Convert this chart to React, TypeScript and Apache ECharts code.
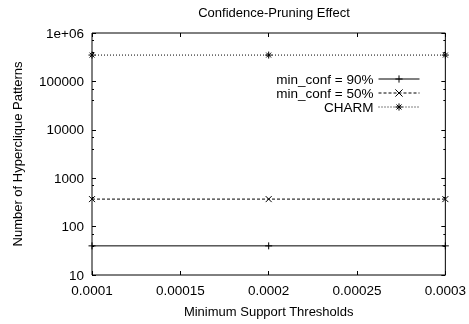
import React, { useEffect, useRef } from "react";
import * as echarts from "echarts";

const supports = [0.0001, 0.0002, 0.0003];
const conf90 = [40, 40, 40];
const conf50 = [370, 370, 370];
const charm = [350000, 350000, 350000];
const seriesNames = ["min_conf = 90%", "min_conf = 50%", "CHARM"];

const FONT = "'Liberation Sans', Arial, sans-serif";

const plusSym = "path://M0,5L10,5M5,0L5,10";
const crossSym = "path://M0,0L10,10M10,0L0,10";
const starSym = "path://M0,5L10,5M5,0L5,10M1.5,1.5L8.5,8.5M8.5,1.5L1.5,8.5";

function fmtY(v: number) {
  if (v >= 1e6) {
    const e = Math.round(Math.log10(v));
    return "1e+" + String(e).padStart(2, "0");
  }
  return String(Math.round(v));
}
function fmtX(v: number) {
  return String(Number(v.toPrecision(6)));
}

export default function App() {
  const ref = useRef<HTMLDivElement>(null);
  useEffect(() => {
    if (!ref.current) return;
    const chart = echarts.init(ref.current, null, { renderer: "svg" });
    const mk = (name: string, vals: number[], sym: string, type: any, size: number) => ({
      name,
      type: "line",
      data: supports.map((s, i) => [s, vals[i]]),
      symbol: sym,
      symbolSize: size,
      clip: false,
      lineStyle: { color: "#000", width: 1, type },
      itemStyle: { color: "#000", borderColor: "#000", borderWidth: 1 },
      emphasis: { disabled: true },
    });
    const commonX = {
      type: "value",
      min: 0.0001,
      max: 0.0003,
      interval: 0.00005,
      splitLine: { show: false },
      axisLine: { show: false },
    };
    const commonY = {
      type: "log",
      logBase: 10,
      min: 10,
      max: 1e6,
      interval: 1,
      splitLine: { show: false },
      axisLine: { show: false },
      minorTick: { show: true, splitNumber: 3, length: 2, lineStyle: { color: "#000" } },
    };
    chart.setOption({
      animation: false,
      title: {
        text: "Confidence-Pruning Effect",
        left: 269,
        top: 1,
        textAlign: "center",
        textStyle: { fontFamily: FONT, fontSize: 13, fontWeight: "normal", color: "#000" },
      },
      grid: {
        left: 92,
        right: 23,
        top: 33,
        bottom: 49,
        show: true,
        borderColor: "#000",
        borderWidth: 1,
        backgroundColor: "transparent",
      },
      legend: {
        orient: "vertical",
        align: "right",
        right: 44,
        top: 67,
        itemWidth: 41,
        itemHeight: 9,
        itemGap: 0,
        data: seriesNames,
        lineStyle: { width: 1 },
        itemStyle: { borderWidth: 1 },
        textStyle: { fontFamily: FONT, fontSize: 13.5, color: "#000", lineHeight: 13.5 },
      },
      xAxis: [
        {
          ...commonX,
          position: "bottom",
          name: "Minimum Support Thresholds",
          nameLocation: "middle",
          nameGap: 30,
          nameTextStyle: { fontFamily: FONT, fontSize: 13, color: "#000" },
          axisTick: { inside: true, length: 4, lineStyle: { color: "#000" } },
          axisLabel: { formatter: fmtX, fontFamily: FONT, fontSize: 13.5, color: "#000", margin: 8 },
        },
        {
          ...commonX,
          position: "top",
          axisTick: { inside: true, length: 4, lineStyle: { color: "#000" } },
          axisLabel: { show: false },
        },
      ],
      yAxis: [
        {
          ...commonY,
          position: "left",
          name: "Number of Hyperclique Patterns",
          nameLocation: "middle",
          nameGap: 68,
          nameTextStyle: { fontFamily: FONT, fontSize: 13, color: "#000" },
          axisTick: { inside: true, length: 4, lineStyle: { color: "#000" } },
          axisLabel: { formatter: fmtY, fontFamily: FONT, fontSize: 13.5, color: "#000", margin: 8 },
        },
        {
          ...commonY,
          position: "right",
          axisTick: { inside: true, length: 4, lineStyle: { color: "#000" } },
          axisLabel: { show: false },
        },
      ],
      series: [
        mk(seriesNames[0], conf90, plusSym, "solid", 7),
        mk(seriesNames[1], conf50, crossSym, [3, 2], 6),
        mk(seriesNames[2], charm, starSym, [1, 2], 7),
      ],
    });
    return () => chart.dispose();
  }, []);
  return (
    <div
      ref={ref}
      style={{ position: "fixed", left: 0, top: 0, width: 469, height: 324 }}
    />
  );
}
